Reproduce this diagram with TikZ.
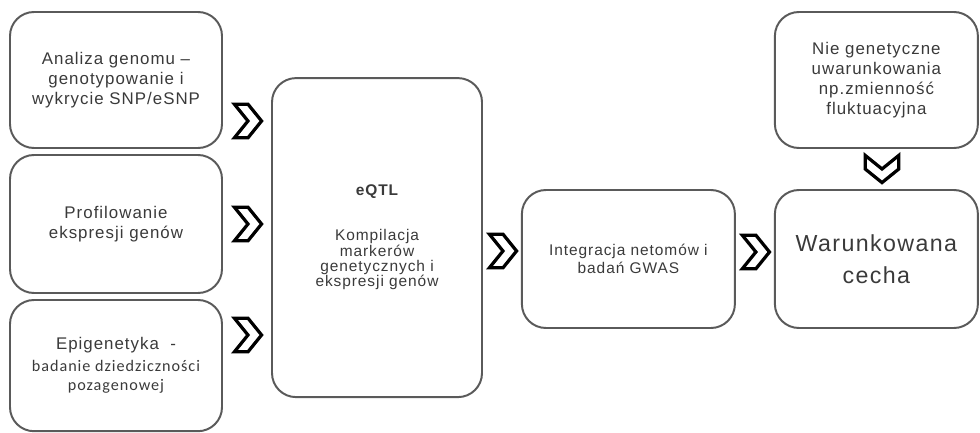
\documentclass[tikz,border=0pt]{standalone}
\usepackage{fontspec}
\setmainfont{Liberation Sans}[LetterSpace=6]
\newfontfamily\carlito{Carlito}[LetterSpace=6]
\usetikzlibrary{positioning,calc}
\definecolor{rim}{HTML}{5A5A5A}
\definecolor{ink}{HTML}{3A3A3A}

\begin{document}
\begin{tikzpicture}[
		box/.style={draw=rim, line width=1.4pt, rounded corners=0.6cm, align=center, text=ink, inner sep=2pt, font=\fontsize{12}{14.2}\selectfont},
		chev/.pic={\draw[line width=2.3pt, fill=white] (-0.34,0.42) -- (0,0.42) -- (0.34,0) -- (0,-0.42) -- (-0.34,-0.42) -- (0,0) -- cycle;}
	]
	\useasboundingbox (0,0) rectangle (24.5,-10.825);

	\node[box, minimum width=5.3cm, minimum height=3.4cm] (genom) at (2.9,-2) {Analiza genomu --\\genotypowanie i\\wykrycie SNP/eSNP};
	\node[box, minimum width=5.3cm, minimum height=3.45cm] (profil) at (2.9,-5.6) {Profilowanie\\ekspresji genów};
	\node[box, minimum width=5.3cm, minimum height=3.28cm] (epigen) at (2.9,-9.14) {Epigenetyka \ -\\[1pt]{\carlito\fontsize{11.5}{15.5}\selectfont badanie dziedziczności}\\{\carlito\fontsize{11.5}{15.5}\selectfont pozagenowej}};

	\node[box, minimum width=5.25cm, minimum height=7.975cm, font=\fontsize{11}{10.9}\selectfont] (eqtl) at (9.425,-5.94) {{\bfseries\fontsize{11}{10.9}\selectfont eQTL}\\[21pt]Kompilacja\\markerów\\genetycznych i\\ekspresji genów};

	\node[box, minimum width=5.325cm, minimum height=3.45cm, font=\fontsize{11}{12.8}\selectfont] (integ) at (15.71,-6.475) {Integracja netomów i\\badań GWAS};

	\node[box, minimum width=5.075cm, minimum height=3.4cm] (niegen) at (21.91,-2) {Nie genetyczne\\uwarunkowania\\np.zmienność\\fluktuacyjna};
	\node[box, minimum width=5.075cm, minimum height=3.45cm, font=\fontsize{16.5}{22.7}\selectfont] (cecha) at (21.91,-6.475) {Warunkowana\\cecha};

	\path (genom.east) ++(0.625,-1.025) pic {chev};
	\path (profil.east) ++(0.625,0) pic {chev};
	\path (epigen.east) ++(0.625,0.765) pic {chev};
	\path (eqtl.east) ++(0.5,-0.335) pic {chev};
	\path (integ.east) ++(0.5,0.175) pic {chev};
	\path (niegen.south) ++(0.14,-0.5) pic[rotate=-90] {chev};
\end{tikzpicture}
\end{document}
